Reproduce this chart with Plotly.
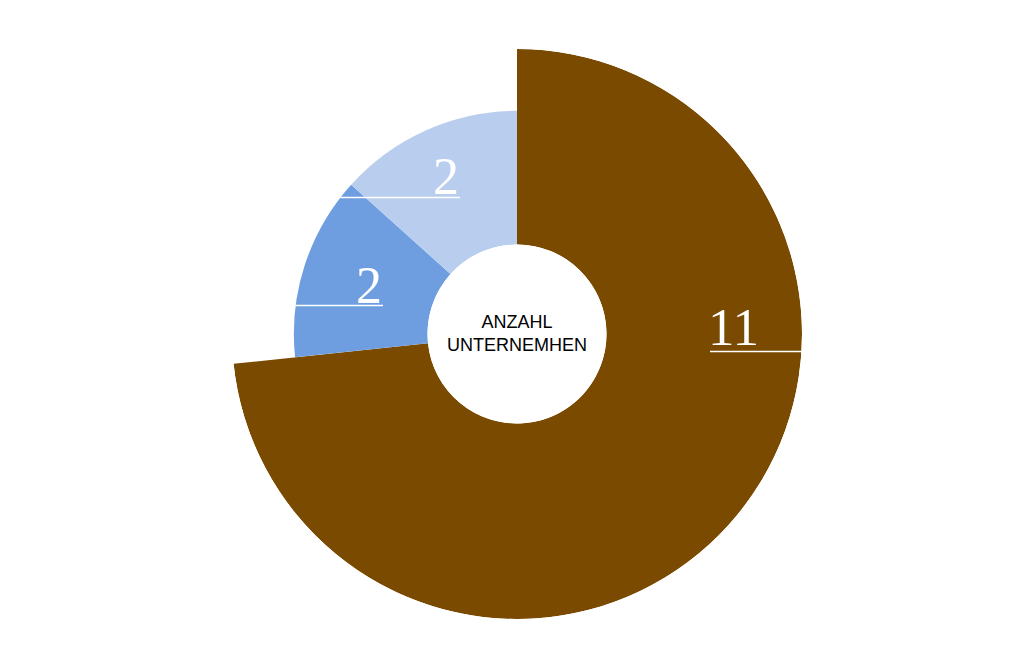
import math
import plotly.graph_objects as go

# ---- data ----
categories = ["Kategorie A", "Kategorie B", "Kategorie C"]
values = [11, 2, 2]
radius_pct = [100, 78.3, 78.3]      # relative outer radius of each slice (% of largest)
labels = ["11", "2", "2"]
colors = ["#7A4A00", "#6E9EE0", "#B9CEEF"]
center_text = ["ANZAHL", "UNTERNEMHEN"]

W, H = 1024, 646
OFF = 8                    # page body margin offset
CX, CY = 517, 334          # pie centre in screen pixels
R = 285                    # outer radius of largest slice, px
HOLE = 0.314               # hole fraction

total = sum(values)
widths, centers = [], []
acc = 0
for v in values:
    w = v / total * 360
    widths.append(w)
    centers.append(acc + w / 2)
    acc += w

hole_val = HOLE * 100
r_plot = [p - hole_val for p in radius_pct]

fig = go.Figure()
fig.add_trace(go.Barpolar(
    r=r_plot, theta=centers, width=widths,
    marker=dict(color=colors, line=dict(width=0)),
    text=categories, hoverinfo="text", showlegend=False,
))

def px(x):
    return (x - OFF) / W

def py(y):
    return 1 - (y - OFF) / H

fig.update_layout(
    width=W, height=H,
    margin=dict(l=0, r=0, t=0, b=0),
    paper_bgcolor="white",
    plot_bgcolor="white",
    polar=dict(
        domain=dict(x=[px(CX - R), px(CX + R)], y=[py(CY + R), py(CY - R)]),
        hole=HOLE,
        bgcolor="white",
        barmode="overlay",
        bargap=0,
        radialaxis=dict(visible=False, range=[0, 100 - hole_val]),
        angularaxis=dict(visible=False, direction="clockwise", rotation=90),
    ),
)

# slice labels with underline running to the slice edge
# (label right end x, underline y, text centre y, side, slice used for edge)
label_layout = [
    (760, 351.5, 327, +1, 0),
    (460, 197.5, 176, -1, 1),
    (383, 305.5, 285, -1, 1),
]
serif = "Liberation Serif, Times New Roman, serif"
for i, (xr, yu, yc, side, edge_slice) in enumerate(label_layout):
    r_px = HOLE * R + (radius_pct[edge_slice] - hole_val) / (100 - hole_val) * (R - HOLE * R)
    dy = yu - CY
    edge_x = CX + side * math.sqrt(max(r_px ** 2 - dy ** 2, 0))
    if side > 0:
        x0, x1 = xr - 50, edge_x
    else:
        x0, x1 = edge_x, xr
    fig.add_shape(type="line", xref="paper", yref="paper",
                  x0=px(x0), x1=px(x1), y0=py(yu), y1=py(yu),
                  line=dict(color="white", width=1.5))
    fig.add_annotation(text=labels[i], xref="paper", yref="paper",
                       x=px(xr + 1), y=py(yc), xanchor="right", yanchor="middle",
                       showarrow=False,
                       font=dict(family=serif, size=53 if i == 0 else 52, color="white"))

fig.add_annotation(text="<br>".join(center_text), xref="paper", yref="paper",
                   x=px(CX), y=py(CY - 1), xanchor="center", yanchor="middle",
                   showarrow=False, align="center",
                   font=dict(family="Liberation Sans, Arial, sans-serif", size=18, color="black"))

fig.write_html("out.html")
